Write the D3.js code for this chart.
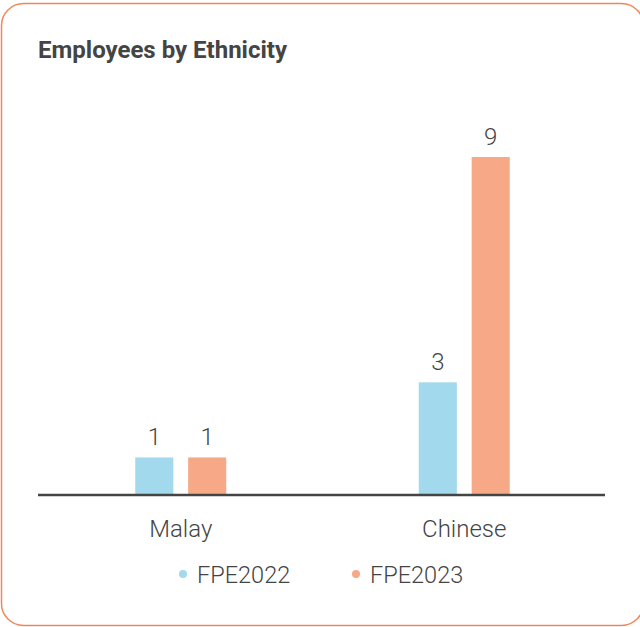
<!DOCTYPE html>
<html><head><meta charset="utf-8">
<script src="https://cdn.jsdelivr.net/npm/d3@7"></script>
<style>body{margin:0;background:#fff}svg{display:block}</style>
</head><body>
<svg id="c" width="640" height="627"></svg>
<script>
const categories = ["Malay", "Chinese"];
const seriesNames = ["FPE2022", "FPE2023"];
const fpe2022 = [1, 3];
const fpe2023 = [1, 9];
const colors = ["#a2d9ec", "#f7a987"];

const svg = d3.select("#c");
const font = "Roboto, 'DejaVu Sans', sans-serif";
const textColor = "#444";

svg.append("rect").attr("x", 1.5).attr("y", 3.5).attr("width", 642).attr("height", 622)
  .attr("rx", 22).attr("fill", "#fff").attr("stroke", "#f0875a").attr("stroke-width", 1.5);

svg.append("text").attr("x", 38).attr("y", 58).text("Employees by Ethnicity")
  .attr("font-family", font).attr("font-weight", 700).attr("font-size", 24).attr("fill", textColor);

const x0 = d3.scaleBand().domain(categories).range([39, 606]).padding(0);
const x1 = d3.scaleBand().domain(seriesNames).range([-45.5, 45.5]).paddingInner(0.28);
const y = d3.scaleLinear().domain([0, 9]).range([495, 157]);

const data = categories.map((c, i) => ({cat: c, vals: [fpe2022[i], fpe2023[i]]}));
const g = svg.append("g");
const groups = g.selectAll("g.grp").data(data).join("g")
  .attr("transform", d => `translate(${x0(d.cat) + x0.bandwidth() / 2},0)`);
groups.selectAll("rect").data(d => d.vals.map((v, j) => ({v, s: seriesNames[j], j}))).join("rect")
  .attr("x", d => x1(d.s)).attr("width", x1.bandwidth())
  .attr("y", d => y(d.v)).attr("height", d => y(0) - y(d.v))
  .attr("fill", d => colors[d.j]);
groups.selectAll("text").data(d => d.vals.map((v, j) => ({v, s: seriesNames[j], j}))).join("text")
  .attr("x", d => x1(d.s) + x1.bandwidth() / 2).attr("y", d => y(d.v) - 12)
  .attr("text-anchor", "middle").attr("font-family", font).attr("font-weight", 300)
  .attr("font-size", 24).attr("fill", textColor).text(d => d.v);

const xAxis = svg.append("g").attr("transform", `translate(0,${y(0)})`)
  .call(d3.axisBottom(x0).tickSize(0).tickPadding(25));
xAxis.select(".domain").attr("stroke", "#444").attr("stroke-width", 2.5)
  .attr("d", "M38,0H605");
xAxis.selectAll("text").attr("font-family", font).attr("font-weight", 300)
  .attr("font-size", 24).attr("fill", textColor);

const legendX = [183, 356];
const leg = svg.append("g").selectAll("g").data(seriesNames).join("g")
  .attr("transform", (d, i) => `translate(${legendX[i]},574)`);
leg.append("circle").attr("r", 4).attr("fill", (d, i) => colors[i]);
leg.append("text").attr("x", 14).attr("y", 8.5).text(d => d)
  .attr("font-family", font).attr("font-weight", 300).attr("font-size", 23.5).attr("fill", textColor);
</script>
</body></html>
